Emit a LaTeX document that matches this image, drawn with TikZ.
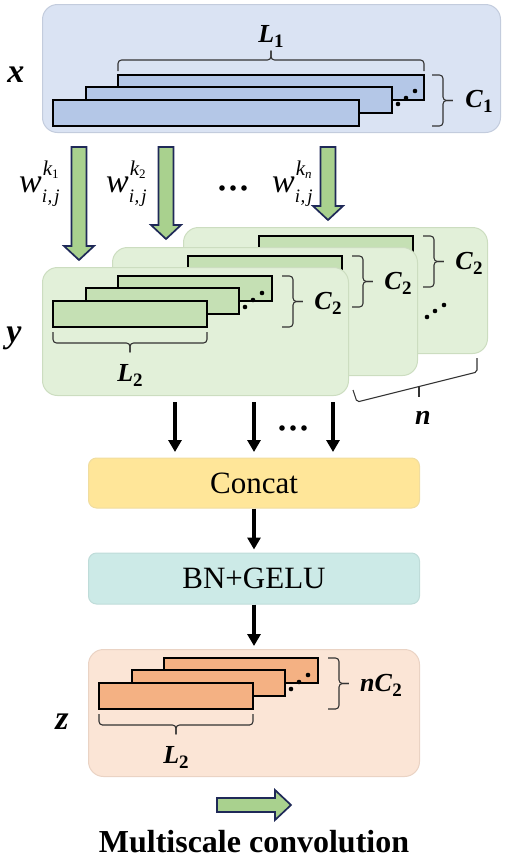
\documentclass[tikz,border=0pt]{standalone}
\usepackage{fontspec}
\setmainfont{Liberation Serif}
\usetikzlibrary{arrows.meta}
\definecolor{bluebg}{HTML}{DAE3F3}
\definecolor{blueln}{HTML}{C3CCDD}
\definecolor{bluerect}{HTML}{B4C7E7}
\definecolor{greenbg}{HTML}{E2F0D9}
\definecolor{greenln}{HTML}{CCDDC0}
\definecolor{greenrect}{HTML}{C5E0B4}
\definecolor{arrowgreen}{HTML}{A9D18E}
\definecolor{navy}{HTML}{1F2958}
\definecolor{concatc}{HTML}{FFE699}
\definecolor{concatln}{HTML}{F0DDA0}
\definecolor{bnc}{HTML}{CCEAE7}
\definecolor{bnln}{HTML}{BFDCD9}
\definecolor{orangebg}{HTML}{FBE5D6}
\definecolor{orangeln}{HTML}{EAD3C4}
\definecolor{orangerect}{HTML}{F4B183}
\definecolor{bracec}{HTML}{333333}
\newcommand\blab[2]{{\fontsize{26}{28}\selectfont\bfseries\itshape #1\/}{\fontsize{19}{22}\selectfont\bfseries\raisebox{-5pt}{#2}}}
\newcommand\biglet[1]{{\fontsize{34}{36}\selectfont\bfseries\itshape #1}}
\newcommand\wlab[1]{{\fontsize{34}{36}\selectfont\itshape w}\rlap{\hspace{1pt}\raisebox{17pt}{\fontsize{21}{22}\selectfont\itshape k\raisebox{-3pt}{\fontsize{13}{14}\selectfont\upshape #1}}}{\fontsize{19}{20}\selectfont\itshape\raisebox{-10pt}{i\hspace{0.5pt},\hspace{2pt}j}}}
% horizontal brace: x1, x2, y of ends, signed height (positive = tip up)
\newcommand\hbrace[4]{%
  \draw[bracepath] (#1,#3) -- (#1,{#3-#4}) -- ({(#1+#2)/2},{#3-#4}) -- ({(#1+#2)/2},{#3-1.85*#4});
  \draw[bracepath] (#2,#3) -- (#2,{#3-#4}) -- ({(#1+#2)/2},{#3-#4}) -- ({(#1+#2)/2},{#3-1.85*#4});}
% vertical brace: x of ends, y1, y2, height (positive = tip right)
\newcommand\vbrace[4]{%
  \draw[bracepath] (#1,#2) -- ({#1+#4},#2) -- ({#1+#4},{(#2+#3)/2}) -- ({#1+1.9*#4},{(#2+#3)/2});
  \draw[bracepath] (#1,#3) -- ({#1+#4},#3) -- ({#1+#4},{(#2+#3)/2}) -- ({#1+1.9*#4},{(#2+#3)/2});}
% stack content relative to the current origin (top-left of panel)
\newcommand\stackcontent[4]{%
  \draw[featrect, fill=#1] (76,9) rectangle (230,34);
  \draw[featrect, fill=#1] (44,21) rectangle (197,47);
  \draw[featrect, fill=#1] (11,34) rectangle (165,60);
  \fill (203,40) circle (2.3) (211,33) circle (2.3) (220,26) circle (2.3);
  \vbrace{240}{9}{60}{11}
  \node[lab] (#4R) at (#3,36) {\blab{#2}{2}};
  \hbrace{11}{165}{65}{-11}
  \node[lab] (#4L) at (88,108) {\blab{L}{2}};
}
\newcommand\downblock[4]{%
  \draw[blockarrow] ({#1-7.5},#2) -- ({#1+7.5},#2) -- ({#1+7.5},#3) -- ({#1+15},#3)
    -- (#1,#4) -- ({#1-15},#3) -- ({#1-7.5},#3) -- cycle;}
\tikzset{
  panel/.style={rounded corners=15pt, line width=1pt, inner sep=0pt, anchor=north west},
  featrect/.style={line width=1.8pt, draw=black},
  bracepath/.style={line width=1.1pt, draw=bracec, rounded corners=3.5pt},
  lab/.style={inner sep=0pt},
  blockarrow/.style={fill=arrowgreen, draw=navy, line width=1.7pt, line join=miter},
  flowarrow/.style={line width=3.2pt, -{Triangle[length=12pt,width=13pt]}},
  procbox/.style={rounded corners=8pt, line width=1pt, minimum width=331pt, inner sep=0pt,
     font=\fontsize{31}{36}\selectfont},
}
\begin{document}
\begin{tikzpicture}[x=1pt,y=-1pt]
\useasboundingbox (0,0) rectangle (505,860);
% ---------- input x ----------
\node[panel, fill=bluebg, draw=blueln, minimum width=458pt, minimum height=128pt] (xbox) at (42,4) {};
\draw[featrect, fill=bluerect] (118,75) rectangle (424,100);
\draw[featrect, fill=bluerect] (86,87) rectangle (392,113);
\draw[featrect, fill=bluerect] (53,100) rectangle (359,126);
\fill (398,104) circle (2.3) (406,98) circle (2.3) (415,91) circle (2.3);
\hbrace{118}{424}{71}{11}
\node[lab] (L1) at (271,36) {\blab{L}{1}};
\vbrace{432}{75}{126}{11}
\node[lab] (C1) at (479,101) {\blab{C}{1}};
\node[lab] (xl) at (16,75) {\biglet{x}};
% ---------- conv arrows ----------
\downblock{79}{147}{246}{260}
\downblock{166}{147}{225}{239}
\downblock{328}{147}{206}{220}
\node[lab, anchor=base west] (w1) at (19,192) {\wlab{1}};
\node[lab, anchor=base west] (w2) at (106,192) {\wlab{2}};
\node[lab, anchor=base west] (w3) at (272,192) {\wlab{\itshape n}};
\fill (222,188) circle (2.8) (233,188) circle (2.8) (244,188) circle (2.8);
% ---------- y stacks ----------
\begin{scope}[shift={(183,227)}]
  \node[panel, fill=greenbg, draw=greenln, minimum width=304pt, minimum height=126pt] (y3) at (0,0) {};
  \stackcontent{greenrect}{C}{286}{yc}
\end{scope}
\fill (427,317) circle (2.3) (435,311) circle (2.3) (444,305) circle (2.3);
\begin{scope}[shift={(112,247)}]
  \node[panel, fill=greenbg, draw=greenln, minimum width=305pt, minimum height=128pt] (y2) at (0,0) {};
  \stackcontent{greenrect}{C}{286}{yb}
\end{scope}
\begin{scope}[shift={(42,267)}]
  \node[panel, fill=greenbg, draw=greenln, minimum width=306pt, minimum height=128pt] (y1) at (0,0) {};
  \stackcontent{greenrect}{C}{286}{ya}
\end{scope}
\node[lab] (yl) at (14,338) {\biglet{y}};
% n brace
\draw[bracepath, rounded corners=2pt] (353,390) -- (357,402) -- (419,386.5) -- (477,372) -- (477,358);
\draw[bracepath] (419,386.5) -- (419,397);
\node[lab] (nl) at (423,418) {\biglet{\fontsize{28}{30}\selectfont n}};
% ---------- concat & BN ----------
\node[procbox, fill=concatc, draw=concatln, minimum height=50pt] (concat) at (254,483) {Concat};
\node[procbox, fill=bnc, draw=bnln, minimum height=51pt] (bn) at (254,578.5) {BN+GELU};
\coordinate (a1) at (175,402);
\coordinate (a2) at (254,402);
\coordinate (a3) at (333,402);
\coordinate (b1) at (175,452);
\coordinate (b2) at (254,452);
\coordinate (b3) at (333,452);
\draw[flowarrow] (a1) -- (b1);
\draw[flowarrow] (a2) -- (b2);
\draw[flowarrow] (a3) -- (b3);
\fill (282,428) circle (2.8) (293,428) circle (2.8) (304,428) circle (2.8);
\draw[flowarrow, shorten >=3pt] (concat.south) -- (bn.north);
% ---------- z ----------
\node[panel, fill=orangebg, draw=orangeln, minimum width=331pt, minimum height=127pt] (zbox) at (88,649) {};
\draw[flowarrow, shorten >=3pt] (bn.south) -- (zbox.north);
\begin{scope}[shift={(88,649)}]
  \stackcontent{orangerect}{nC}{293}{z}
\end{scope}
\node[lab] (zl) at (62,722) {\biglet{z}};
% ---------- legend ----------
\draw[blockarrow] (217,798) -- (275,798) -- (275,790) -- (291,805) -- (275,820) -- (275,812) -- (217,812) -- cycle;
\node[inner sep=0pt, font=\fontsize{32}{36}\selectfont\bfseries] (legend) at (254,842) {Multiscale convolution};
\end{tikzpicture}
\end{document}
